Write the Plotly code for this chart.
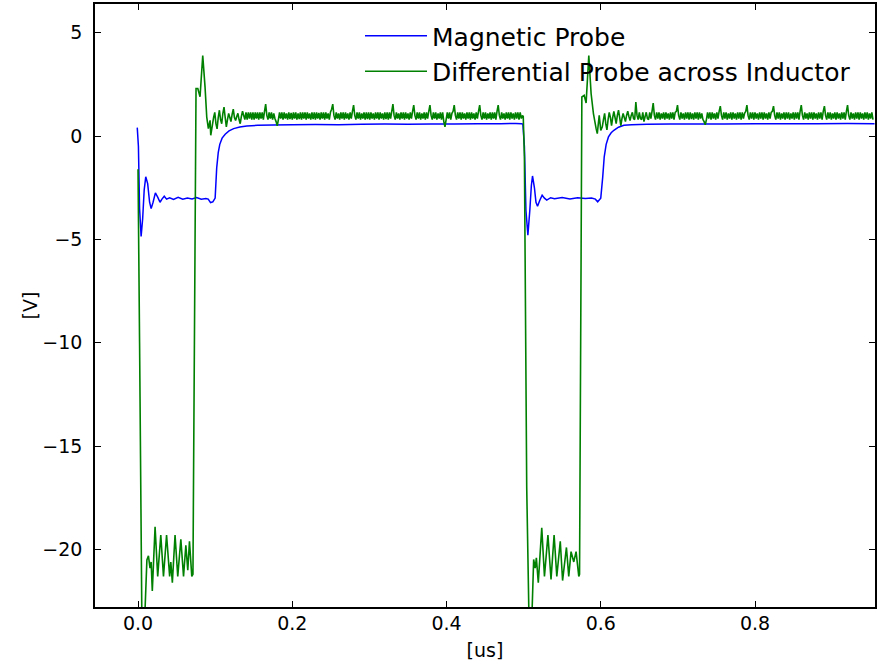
import numpy as np
import plotly.graph_objects as go

# ---------------- data ----------------
# Magnetic probe (blue)
blue_t1 = [-0.001, 0.0005, 0.002, 0.004, 0.006, 0.008, 0.010, 0.0125, 0.015, 0.017,
           0.0195, 0.0225, 0.0255, 0.0285, 0.031, 0.034, 0.037, 0.041, 0.046, 0.052,
           0.058, 0.064, 0.070, 0.076, 0.082, 0.088, 0.091, 0.094, 0.097, 0.100,
           0.102, 0.104, 0.106, 0.109, 0.113, 0.118, 0.124, 0.132, 0.141, 0.155,
           0.175, 0.20, 0.23, 0.26, 0.29, 0.32, 0.35, 0.38, 0.41, 0.44,
           0.47, 0.49, 0.497, 0.499]
blue_v1 = [0.41, -0.5, -3.5, -4.86, -4.0, -2.6, -1.97, -2.3, -3.2, -3.51,
           -3.2, -2.75, -2.95, -3.2, -3.05, -2.91, -3.05, -2.98, -3.06, -2.96,
           -3.05, -3.0, -3.04, -2.97, -3.05, -3.02, -3.05, -3.22, -3.18, -3.0,
           -1.54, -0.8, -0.4, -0.1, 0.09, 0.25, 0.36, 0.44, 0.49, 0.52,
           0.54, 0.55, 0.56, 0.55, 0.57, 0.58, 0.57, 0.59, 0.58, 0.6,
           0.6, 0.61, 0.6, 0.58]
blue_t2 = [0.501, 0.503, 0.5055, 0.508, 0.510, 0.5115, 0.514, 0.516, 0.518, 0.521,
           0.524, 0.527, 0.530, 0.535, 0.54, 0.55, 0.56, 0.57, 0.58, 0.588,
           0.593, 0.596, 0.600, 0.6025, 0.6045, 0.607, 0.610, 0.6135, 0.617, 0.623,
           0.630, 0.64, 0.66, 0.69, 0.72, 0.76, 0.80, 0.84, 0.88, 0.92, 0.955]
blue_v2 = [-0.5, -3.6, -4.79, -3.6, -2.4, -1.93, -2.5, -3.2, -3.39, -3.1,
           -2.86, -3.0, -3.1, -2.98, -3.03, -2.97, -3.04, -2.98, -3.02, -3.0,
           -3.05, -3.18, -3.0, -2.0, -1.0, -0.4, -0.04, 0.16, 0.28, 0.43,
           0.52, 0.55, 0.57, 0.58, 0.58, 0.59, 0.6, 0.6, 0.6, 0.61, 0.6]

# Differential probe across inductor (green) - transients
green_t1 = [0.0, 0.002, 0.005, 0.0085, 0.0115, 0.0135, 0.0155, 0.017, 0.0185, 0.0221,
            0.0255, 0.0295, 0.033, 0.037, 0.041, 0.0425, 0.0445, 0.048, 0.0515, 0.0555,
            0.059, 0.062, 0.0645, 0.0667, 0.0697, 0.0712, 0.0752, 0.0775, 0.0804, 0.0839,
            0.0869, 0.0891, 0.0912, 0.0934, 0.0943]
green_v1 = [-1.6, -10.0, -23.5, -23.5, -20.5, -20.3, -20.9, -20.6, -22.0, -18.9,
            -21.3, -19.3, -21.3, -19.3, -21.3, -20.6, -21.6, -19.3, -21.3, -19.5,
            -21.3, -19.8, -21.0, -19.6, -21.3, -21.2, 2.3, 2.3, 1.9, 3.9,
            2.37, 0.92, 0.36, 0.76, 0.04]
green_t2 = [0.4995, 0.501, 0.504, 0.507, 0.5105, 0.513, 0.515, 0.5165, 0.519, 0.5235,
            0.527, 0.5315, 0.5355, 0.5395, 0.543, 0.5475, 0.5505, 0.5555, 0.5585, 0.5615,
            0.565, 0.568, 0.5715, 0.5725, 0.5755, 0.5785, 0.581, 0.5845, 0.5875, 0.5905,
            0.594, 0.5955, 0.598, 0.600]
green_v2 = [0.95, -1.0, -17.0, -23.5, -23.5, -20.48, -20.9, -20.4, -21.6, -18.95,
            -21.3, -19.3, -21.45, -19.3, -21.3, -19.6, -21.5, -19.9, -21.3, -20.1,
            -20.6, -20.1, -21.3, -21.2, 1.89, 1.97, 1.6, 3.9, 2.05, 1.09,
            0.36, 0.12, 1.0, 0.28]

# Green noisy plateaus (sampled every 1.5 ns)
green_noise1_start, green_noise1_end = 0.0965, 0.4985
green_noise1 = [
    0.55, 0.9, 1.15, 0.6, 0.35, 0.9, 1.25, 0.8, 0.6, 1.1, 1.4, 0.9, 0.45, 0.8, 1.1, 0.9, 0.7, 1.05, 1.3, 0.9,
    0.75, 0.95, 1.1, 0.8, 0.6, 0.95, 1.2, 1.0, 0.8, 1.15, 0.8, 1.15, 0.85, 1.15, 0.8, 1.15, 0.8, 1.15, 0.85, 1.15,
    0.8, 1.15, 0.85, 1.15, 0.8, 1.2, 1.55, 1.0, 0.8, 1.15, 0.85, 1.15, 0.8, 1.1, 0.85, 0.7, 0.5, 0.8, 1.15, 0.85,
    1.15, 0.8, 1.15, 0.85, 1.1, 0.8, 1.15, 0.82, 1.12, 0.8, 1.15, 0.85, 1.15, 0.8, 1.1, 0.82, 1.15, 0.8, 1.15, 0.85,
    1.15, 0.8, 1.15, 0.85, 1.1, 0.8, 1.15, 0.82, 1.15, 0.8, 1.15, 0.85, 1.12, 0.8, 1.15, 0.85, 1.15, 0.8, 1.15, 0.85,
    1.1, 0.8, 1.15, 1.3, 1.55, 1.0, 0.8, 1.15, 0.85, 1.1, 0.8, 1.15, 0.85, 1.15, 0.8, 1.15, 0.85, 1.1, 0.8, 1.15,
    0.85, 1.2, 1.5, 1.0, 0.8, 1.15, 0.85, 1.15, 0.8, 1.1, 0.85, 1.15, 0.8, 1.15, 0.82, 1.15, 0.8, 1.15, 0.85, 1.1,
    0.8, 1.15, 0.85, 1.15, 0.8, 1.15, 0.85, 1.1, 0.8, 1.15, 0.82, 1.15, 0.8, 1.15, 0.85, 1.2, 1.55, 1.0, 0.8, 1.15,
    0.85, 1.1, 0.8, 1.15, 0.85, 1.15, 0.8, 1.15, 0.85, 1.1, 0.8, 1.15, 0.85, 1.2, 1.5, 1.0, 0.8, 1.15, 0.85, 1.15,
    0.8, 1.1, 0.85, 1.15, 0.8, 1.15, 0.85, 1.2, 1.5, 1.0, 0.8, 1.15, 0.85, 1.15, 0.8, 1.1, 0.85, 1.15, 0.8, 1.15,
    0.7, 0.45, 0.8, 1.15, 0.85, 1.15, 0.8, 1.1, 1.2, 1.5, 1.0, 0.8, 1.15, 0.85, 1.15, 0.8, 1.15, 0.85, 1.1, 0.8,
    1.15, 0.85, 1.15, 0.8, 1.15, 0.85, 1.1, 0.8, 1.15, 0.85, 1.2, 1.5, 1.0, 0.8, 1.15, 0.85, 1.15, 0.8, 1.1, 0.85,
    1.15, 0.8, 1.15, 0.85, 1.15, 0.8, 1.2, 1.5, 1.0, 0.8, 1.15, 0.85, 1.1, 0.8, 1.15, 0.85, 1.15, 0.8, 1.15, 0.85,
    1.1, 0.8, 1.15, 0.85, 1.15, 0.8, 1.15, 0.85, 1.0,
]
green_noise2_start, green_noise2_end = 0.602, 0.953
green_noise2 = [
    0.45, 0.8, 1.1, 0.6, 0.3, 0.8, 1.15, 0.9, 0.5, 0.9, 1.2, 0.9, 0.6, 1.0, 1.25, 0.9, 0.5, 0.85, 1.1, 0.9,
    0.7, 1.0, 1.2, 0.95, 0.75, 1.0, 1.15, 0.85, 0.8, 1.65, 1.0, 0.8, 1.15, 0.85, 0.8, 1.15, 0.7, 0.95, 1.15, 0.85,
    0.8, 1.15, 0.85, 1.2, 1.6, 1.0, 0.8, 1.15, 0.85, 1.15, 0.8, 1.1, 0.85, 1.15, 0.8, 1.15, 0.85, 1.1, 0.8, 1.15,
    0.85, 1.15, 0.8, 1.15, 1.2, 1.5, 1.0, 0.8, 1.15, 0.85, 1.1, 0.8, 1.15, 0.85, 1.15, 0.8, 1.15, 0.82, 1.1, 0.8,
    1.15, 0.85, 1.15, 0.8, 1.15, 0.85, 1.1, 0.8, 0.7, 0.55, 0.8, 1.15, 0.85, 1.15, 0.8, 1.15, 0.85, 1.1, 0.8, 1.15,
    0.85, 1.2, 1.45, 1.0, 0.8, 1.15, 0.85, 1.15, 0.8, 1.1, 0.85, 1.15, 0.8, 1.15, 0.85, 1.1, 0.8, 1.15, 0.85, 1.15,
    0.8, 1.15, 0.85, 1.1, 1.2, 1.5, 1.0, 0.8, 1.15, 0.85, 1.15, 0.8, 1.15, 0.85, 1.1, 0.8, 1.15, 0.85, 1.15, 0.8,
    1.15, 0.85, 1.1, 0.8, 1.15, 0.85, 1.15, 1.2, 1.45, 1.0, 0.8, 1.15, 0.85, 1.15, 0.8, 1.1, 0.85, 1.15, 0.8, 1.15,
    0.85, 1.15, 0.8, 1.1, 0.85, 1.15, 0.8, 1.15, 0.85, 1.15, 0.8, 1.2, 1.5, 1.0, 0.8, 1.15, 0.85, 1.1, 0.8, 1.15,
    0.85, 1.15, 0.8, 1.15, 0.85, 1.1, 0.8, 1.15, 0.85, 1.15, 0.8, 1.2, 1.45, 1.0, 0.8, 1.15, 0.85, 1.15, 0.8, 1.1,
    0.85, 1.15, 0.8, 1.15, 0.85, 1.1, 0.8, 1.15, 0.85, 1.15, 0.8, 1.2, 1.5, 1.0, 0.8, 1.15, 0.85, 1.1, 0.8, 1.15,
    0.85, 1.15, 0.8, 1.15, 0.85, 1.1, 0.8, 1.15, 0.85, 1.15, 0.8, 1.1, 0.85, 1.15, 0.8,
]

series_names = ["Magnetic Probe", "Differential Probe across Inductor"]
x_ticks = [0.0, 0.2, 0.4, 0.6, 0.8]
y_ticks = [5, 0, -5, -10, -15, -20]
x_label = "[us]"
y_label = "[V]"

# ---------------- assemble ----------------
blue_t = blue_t1 + blue_t2
blue_v = blue_v1 + blue_v2
noise1_t = list(np.linspace(green_noise1_start, green_noise1_end, len(green_noise1)))
noise2_t = list(np.linspace(green_noise2_start, green_noise2_end, len(green_noise2)))
green_t = green_t1 + noise1_t + green_t2 + noise2_t
green_v = green_v1 + green_noise1 + green_v2 + green_noise2

FONT = "DejaVu Sans"
W, H = 888, 664
ML, MR, MT, MB = 95, 13, 4, 57
PW, PH = W - ML - MR, H - MT - MB

fig = go.Figure()
fig.add_trace(go.Scatter(x=blue_t, y=blue_v, mode="lines", name=series_names[0],
                         legendgroup="a",
                         line=dict(color="#0000ff", width=1.5, simplify=False)))
fig.add_trace(go.Scatter(x=green_t, y=green_v, mode="lines", name=series_names[1],
                         legendgroup="b",
                         line=dict(color="#008000", width=1.6, simplify=False)))

axis_common = dict(
    showgrid=False, zeroline=False, showline=True, linecolor="black", linewidth=1.5,
    mirror="allticks", ticks="inside", ticklen=6, tickwidth=1, tickcolor="black",
    tickfont=dict(family=FONT, size=19, color="black"),
)
fig.update_xaxes(range=[-0.0558, 0.9556], tickvals=x_ticks, tickformat=".1f",
                 title=dict(text=x_label, font=dict(family=FONT, size=19, color="black"),
                            standoff=11),
                 ticklabelstandoff=-2, **axis_common)
fig.update_yaxes(range=[-22.78, 6.39], tickvals=y_ticks,
                 title=dict(text=y_label, font=dict(family=FONT, size=19, color="black"),
                            standoff=0),
                 ticklabelstandoff=7, **axis_common)

fig.update_layout(
    width=W, height=H,
    margin=dict(l=ML, r=MR, t=MT, b=MB, autoexpand=False),
    paper_bgcolor="white", plot_bgcolor="white",
    font=dict(family=FONT, color="black"),
    showlegend=True,
    legend=dict(x=(360 - ML) / PW, y=1 - (13 - MT) / PH,
                xanchor="left", yanchor="top", bgcolor="rgba(0,0,0,0)",
                borderwidth=0, font=dict(family=FONT, size=25, color="black"),
                itemwidth=62, tracegroupgap=0),
)

fig.write_html("out.html")
